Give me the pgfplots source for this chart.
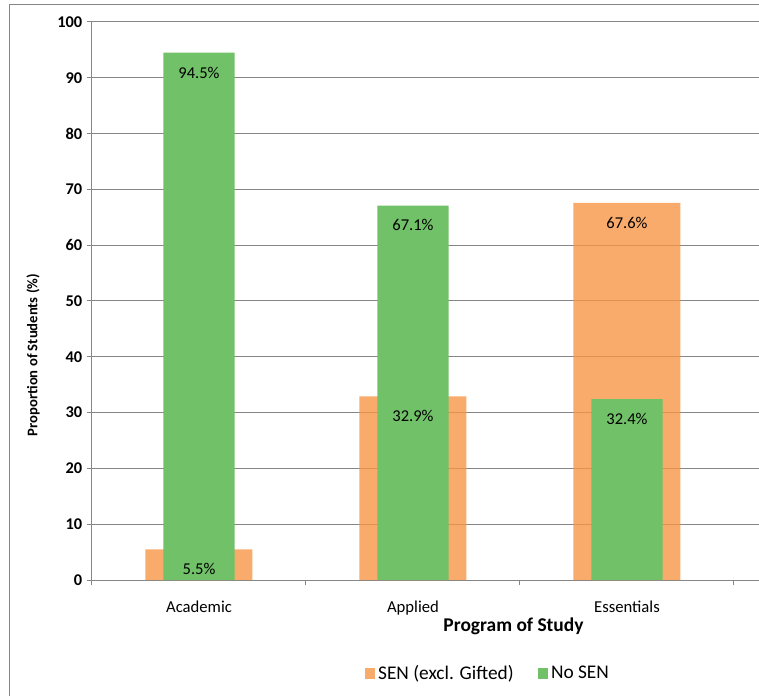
\documentclass[border=0pt]{standalone}
\usepackage{pgfplots}
\pgfplotsset{compat=1.18}
\usepackage{pgfplotstable}
\usepackage{fontspec}
\setmainfont{Carlito}

\definecolor{senorange}{HTML}{F79646}
\definecolor{nosengreen}{HTML}{71C168}
\definecolor{axgray}{HTML}{868686}

% program, SEN (excl. Gifted), No SEN
\pgfplotstableread{
x sen nosen
0 5.5 94.5
1 32.9 67.1
2 67.6 32.4
}\datatable

\begin{document}
\begin{tikzpicture}
\path[use as bounding box] (-69pt,-86.25pt) rectangle (500.25pt,435pt);
\draw[axgray, line width=0.75pt] (-61.5pt,-90pt) -- (-61.5pt,431.25pt) -- (505pt,431.25pt);
\begin{axis}[
    scale only axis,
    width=500.25pt, height=418.5pt,
    at={(0,0)}, anchor=south west,
    xmin=-0.5, xmax=2.617,
    ymin=0, ymax=100,
    axis x line*=bottom, axis y line*=left,
    axis line style={axgray, line width=0.75pt},
    ytick={0,10,...,100},
    ymajorgrids,
    grid style={axgray, line width=0.75pt},
    xtick={0,1,2},
    xticklabels={Academic,Applied,Essentials},
    minor xtick={-0.5,0.5,1.5,2.5},
    tick align=outside,
    major tick length=3.75pt, minor tick length=3.75pt,
    tick style={axgray, line width=0.75pt},
    major x tick style={draw=none},
    /pgf/number format/assume math mode=true,
    yticklabel style={font=\bfseries\fontsize{12.3}{14}\selectfont, text=black},
    xticklabel style={font=\fontsize{12.5}{15}\selectfont, text=black, anchor=base, yshift=-20.8pt},
    ylabel={Proportion of Students (\%)},
    ylabel style={at={(axis description cs:-0.0885,0.403)}, anchor=center,
        font=\bfseries\fontsize{11}{13}\selectfont},
    xlabel={Program of Study},
    xlabel style={at={(axis description cs:0.632,-0.0837)}, anchor=center,
        font=\bfseries\fontsize{14.6}{17}\selectfont},
    legend style={draw=none, fill=none, at={(axis description cs:0.594,-0.167)}, anchor=center,
        font=\fontsize{14.5}{17}\selectfont, legend columns=2,
        /tikz/every even column/.append style={column sep=16pt}},
    legend image code/.code={\fill[#1] (0pt,-4pt) rectangle (8pt,4pt);},
    legend cell align=left,
]
\addplot[ybar, bar width=0.5, bar shift=0pt, fill=senorange, fill opacity=0.8, draw=none]
    table[x=x, y=sen]{\datatable};
\addlegendentry{SEN (excl. Gifted)}
\addplot[ybar, bar width=0.3333, bar shift=0pt, fill=nosengreen, draw=none]
    table[x=x, y=nosen]{\datatable};
\addlegendentry{No SEN}
% value labels, drawn last so that none is hidden by a bar
\addplot[ybar, bar width=0.3333, bar shift=0pt, draw=none, fill=none, forget plot,
    nodes near coords={\pgfmathprintnumber[fixed, precision=1, fixed zerofill]{\pgfplotspointmeta}\%},
    nodes near coords align={anchor=north},
    every node near coord/.append style={anchor=north, yshift=-7pt, text=black,
        font=\fontsize{12.4}{15}\selectfont}]
    table[x=x, y=sen]{\datatable};
\addplot[ybar, bar width=0.3333, bar shift=0pt, draw=none, fill=none, forget plot,
    nodes near coords={\pgfmathprintnumber[fixed, precision=1, fixed zerofill]{\pgfplotspointmeta}\%},
    nodes near coords align={anchor=north},
    every node near coord/.append style={anchor=north, yshift=-7pt, text=black,
        font=\fontsize{12.4}{15}\selectfont}]
    table[x=x, y=nosen]{\datatable};
\end{axis}
\end{tikzpicture}
\end{document}
